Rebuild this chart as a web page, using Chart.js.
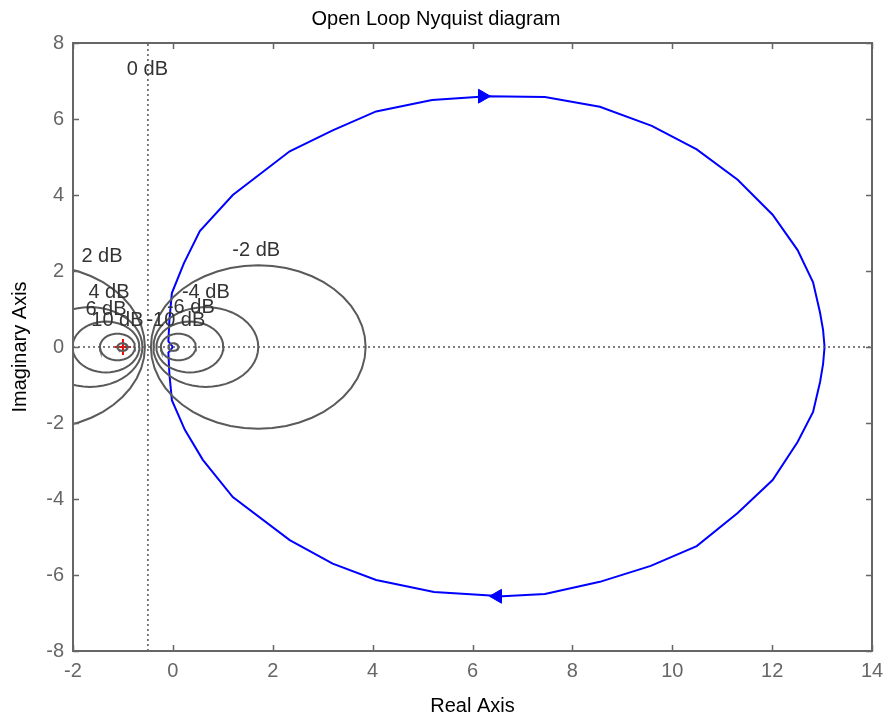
<!DOCTYPE html>
<html>
<head>
<meta charset="utf-8">
<title>Open Loop Nyquist diagram</title>
<script src="https://cdn.jsdelivr.net/npm/chart.js@4.4.0/dist/chart.umd.min.js"></script>
<style>
    html, body { margin: 0; padding: 0; background: #fff; }
    #wrap { width: 884px; height: 720px; }
</style>
</head>
<body>
<div id="wrap"><canvas id="nyquistChart"></canvas></div>
<script>
// open loop frequency response, upper branch (negative frequencies)
const upperRe = [0, -0.09, -0.07, -0.02, 0.22, 0.54, 1.2, 2.34, 3.2, 4.07, 5.19, 6.3, 7.45, 8.55, 9.59, 10.49, 11.31, 12.01, 12.51, 12.82, 12.96, 13.02, 13.05];
const upperIm = [0, 0.15, 0.7, 1.42, 2.2, 3.05, 4.0, 5.15, 5.7, 6.2, 6.5, 6.6, 6.58, 6.32, 5.82, 5.2, 4.4, 3.48, 2.55, 1.7, 0.9, 0.45, 0];
// lower branch (positive frequencies)
const lowerRe = [13.05, 13.02, 12.96, 12.82, 12.51, 12.01, 11.31, 10.49, 9.57, 8.55, 7.45, 6.6, 5.23, 4.07, 3.2, 2.34, 1.2, 0.6, 0.24, -0.02, -0.07, -0.09, 0];
const lowerIm = [0, -0.45, -0.92, -1.71, -2.5, -3.5, -4.37, -5.24, -5.76, -6.18, -6.5, -6.56, -6.45, -6.13, -5.7, -5.08, -3.95, -2.97, -2.18, -1.4, -0.7, -0.15, 0];

// direction arrows on the curve
const arrowRe = [6.2, 6.5];
const arrowIm = [6.6, -6.56];
const arrowAngle = [90, -90];

// M-circles of the grid (dB levels)
const mLevels = [-20, -10, -6, -4, -2, 2, 4, 6, 10, 20];
const mCenters = [0.01, 0.11, 0.34, 0.66, 1.71, -2.71, -1.66, -1.34, -1.11, -1.01];
const mRadii = [0.10, 0.35, 0.67, 1.05, 2.15, 2.15, 1.05, 0.67, 0.35, 0.10];
const zeroDbRe = -0.5;

// grid label text and where it sits
const gridLabels = ['0 dB', '2 dB', '4 dB', '6 dB', '10 dB', '-10 dB', '-6 dB', '-4 dB', '-2 dB'];
const gridLabelRe = [-0.51, -1.42, -1.28, -1.34, -1.11, 0.06, 0.36, 0.66, 1.67];
const gridLabelIm = [7.29, 2.39, 1.43, 1.0, 0.71, 0.71, 1.03, 1.43, 2.53];

const xTicks = [-2, 0, 2, 4, 6, 8, 10, 12, 14];
const yTicks = [-8, -6, -4, -2, 0, 2, 4, 6, 8];

const FONT = '"Liberation Sans", Arial, Helvetica, sans-serif';
const AXIS_GRAY = '#666666';

function toPoints(xs, ys) {
    return xs.map((x, i) => ({ x: x, y: ys[i] }));
}

function circlePoints(c, r) {
    const pts = [];
    const n = 48;
    for (let k = 0; k <= n; k++) {
        const a = 2 * Math.PI * k / n;
        pts.push({ x: c + r * Math.cos(a), y: r * Math.sin(a) });
    }
    return pts;
}

const datasets = [];

mLevels.forEach((lvl, i) => {
    datasets.push({
        label: lvl + ' dB',
        data: circlePoints(mCenters[i], mRadii[i]),
        showLine: true,
        borderColor: '#5a5a5a',
        borderWidth: 2,
        pointRadius: 0,
        tension: 0
    });
});

// real axis and the 0 dB line
datasets.push({
    label: 'real axis',
    data: [{ x: xTicks[0], y: 0 }, { x: xTicks[xTicks.length - 1], y: 0 }],
    showLine: true,
    borderColor: '#555555',
    borderWidth: 1.5,
    borderDash: [2, 3],
    pointRadius: 0
});
datasets.push({
    label: '0 dB',
    data: [{ x: zeroDbRe, y: yTicks[0] }, { x: zeroDbRe, y: yTicks[yTicks.length - 1] }],
    showLine: true,
    borderColor: '#555555',
    borderWidth: 1.5,
    borderDash: [2, 3],
    pointRadius: 0
});

datasets.push({
    label: 'upper',
    data: toPoints(upperRe, upperIm),
    showLine: true,
    borderColor: '#0000ff',
    borderWidth: 2,
    pointRadius: 0,
    tension: 0
});
datasets.push({
    label: 'lower',
    data: toPoints(lowerRe, lowerIm),
    showLine: true,
    borderColor: '#0000ff',
    borderWidth: 2,
    pointRadius: 0,
    tension: 0
});

datasets.push({
    label: 'arrows',
    data: toPoints(arrowRe, arrowIm),
    showLine: false,
    pointStyle: 'triangle',
    rotation: arrowAngle,
    pointRadius: 8,
    backgroundColor: '#0000ff',
    borderColor: '#0000ff',
    borderWidth: 1
});

datasets.push({
    label: 'critical point',
    data: [{ x: -1, y: 0 }],
    showLine: false,
    pointStyle: 'cross',
    pointRadius: 8,
    borderColor: '#ff0000',
    borderWidth: 2
});

// box, inward ticks and the dB labels
const framePlugin = {
    id: 'frame',
    afterDatasetsDraw(chart) {
        const { ctx, chartArea: a, scales } = chart;
        const xs = scales.x, ys = scales.y;
        ctx.save();

        ctx.font = '20px ' + FONT;
        ctx.fillStyle = '#333333';
        ctx.textAlign = 'center';
        ctx.textBaseline = 'middle';
        gridLabels.forEach((t, i) => {
            ctx.fillText(t, xs.getPixelForValue(gridLabelRe[i]), ys.getPixelForValue(gridLabelIm[i]));
        });

        ctx.strokeStyle = AXIS_GRAY;
        ctx.lineWidth = 1.5;
        const tl = 6;
        ctx.beginPath();
        xTicks.forEach(v => {
            const px = Math.round(xs.getPixelForValue(v)) + 0.5;
            ctx.moveTo(px, a.bottom); ctx.lineTo(px, a.bottom - tl);
            ctx.moveTo(px, a.top); ctx.lineTo(px, a.top + tl);
        });
        yTicks.forEach(v => {
            const py = Math.round(ys.getPixelForValue(v)) + 0.5;
            ctx.moveTo(a.left, py); ctx.lineTo(a.left + tl, py);
            ctx.moveTo(a.right, py); ctx.lineTo(a.right - tl, py);
        });
        ctx.stroke();

        ctx.lineWidth = 2;
        ctx.strokeRect(a.left, a.top, a.right - a.left, a.bottom - a.top);
        ctx.restore();
    }
};

new Chart(document.getElementById('nyquistChart'), {
    type: 'scatter',
    data: { datasets: datasets },
    options: {
        responsive: true,
        maintainAspectRatio: false,
        animation: false,
        layout: { padding: { left: 0, right: 12, top: 0, bottom: 0 } },
        plugins: {
            legend: { display: false },
            tooltip: { enabled: false },
            title: {
                display: true,
                text: 'Open Loop Nyquist diagram',
                color: '#000',
                font: { family: FONT, size: 20, weight: 'normal' },
                padding: { top: 7, bottom: 12 }
            }
        },
        scales: {
            x: {
                type: 'linear',
                min: xTicks[0],
                max: xTicks[xTicks.length - 1],
                afterBuildTicks: s => { s.ticks = xTicks.map(v => ({ value: v })); },
                afterFit: s => { s.height = 69; s.paddingLeft = 0; s.paddingRight = 0; },
                grid: { display: false, drawTicks: false },
                border: { display: false },
                ticks: { color: AXIS_GRAY, padding: 8, font: { family: FONT, size: 20 } },
                title: {
                    display: true,
                    text: 'Real Axis',
                    color: '#000',
                    font: { family: FONT, size: 20 },
                    padding: { top: 0, bottom: 2 }
                }
            },
            y: {
                type: 'linear',
                min: yTicks[0],
                max: yTicks[yTicks.length - 1],
                afterBuildTicks: s => { s.ticks = yTicks.map(v => ({ value: v })); },
                afterFit: s => { s.width = 73; s.paddingTop = 0; s.paddingBottom = 0; },
                grid: { display: false, drawTicks: false },
                border: { display: false },
                ticks: { color: AXIS_GRAY, padding: 9, font: { family: FONT, size: 20 } },
                title: {
                    display: true,
                    text: 'Imaginary Axis',
                    color: '#000',
                    font: { family: FONT, size: 20 },
                    padding: { top: 8, bottom: 0 }
                }
            }
        }
    },
    plugins: [framePlugin]
});
</script>
</body>
</html>
